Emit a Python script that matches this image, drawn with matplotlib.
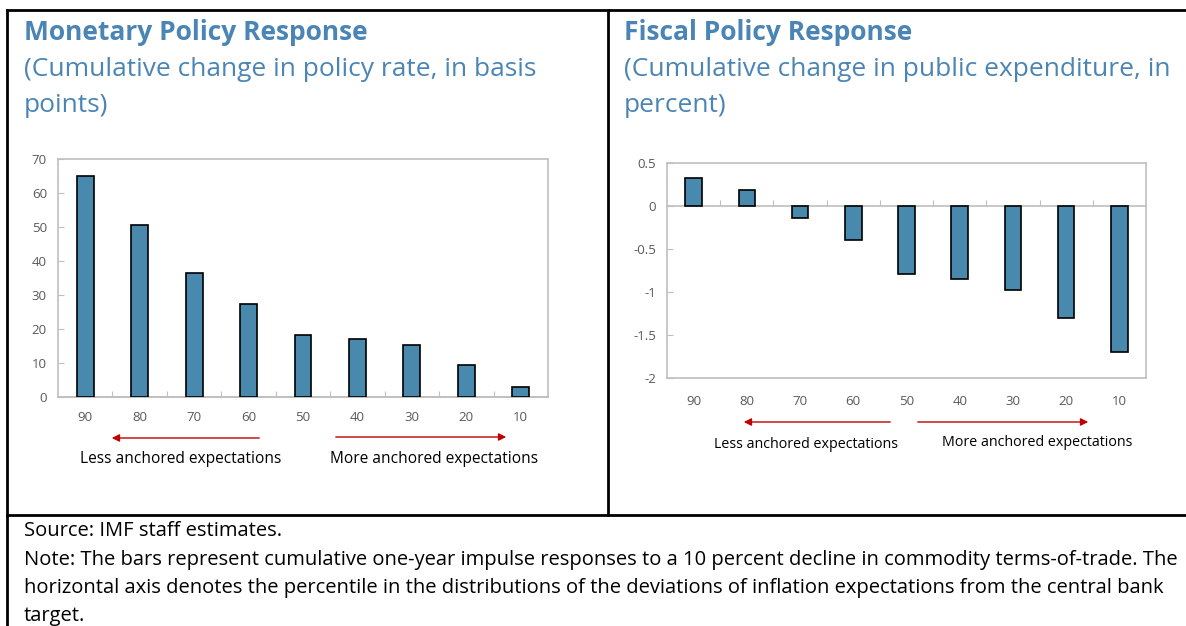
import numpy as np
import matplotlib
matplotlib.use("Agg")
import matplotlib.pyplot as plt

W, H = 1186, 626

# === Data ===
percentiles = ["90", "80", "70", "60", "50", "40", "30", "20", "10"]
monetary = [65.0, 50.5, 36.5, 27.3, 18.2, 17.1, 15.3, 9.5, 3.0]
fiscal = [0.32, 0.19, -0.135, -0.395, -0.785, -0.85, -0.98, -1.30, -1.695]

left_title = "Monetary Policy Response"
left_sub = ["(Cumulative change in policy rate, in basis", "points)"]
right_title = "Fiscal Policy Response"
right_sub = ["(Cumulative change in public expenditure, in", "percent)"]
note_lines = [
    "Source: IMF staff estimates.",
    "Note: The bars represent cumulative one-year impulse responses to a 10 percent decline in commodity terms-of-trade. The",
    "horizontal axis denotes the percentile in the distributions of the deviations of inflation expectations from the central bank",
    "target.",
]

BAR = "#4A89AE"
TITLE = "#4A85B5"
GRAY = "#595959"
FRAME = "#BFBFBF"
RED = "#C00000"

plt.rcParams['font.family'] = ['Open Sans', 'DejaVu Sans']


def fx(x):
    return x / W


def fy(y):
    return 1 - y / H


fig = plt.figure(figsize=(W / 100, H / 100), dpi=100)

# === Table lines ===
lw = 2
fig.add_artist(plt.Line2D([fx(7), 1], [fy(10), fy(10)], color="black", lw=lw))
fig.add_artist(plt.Line2D([fx(7), 1], [fy(515), fy(515)], color="black", lw=lw))
fig.add_artist(plt.Line2D([fx(7), fx(7)], [fy(10), 0], color="black", lw=lw))
fig.add_artist(plt.Line2D([fx(608), fx(608)], [fy(10), fy(515)], color="black", lw=lw))

# === Titles ===
for x0, title, sub in [(24, left_title, left_sub), (624, right_title, right_sub)]:
    fig.text(fx(x0), fy(32), title, color=TITLE, fontsize=19, fontweight="bold", va="center")
    for i, line in enumerate(sub):
        fig.text(fx(x0), fy(69 + 36 * i), line, color=TITLE, fontsize=19, va="center")


def style_axes(ax, ylim, yticks, ylabels, zero_frac, xpad):
    x = np.arange(len(percentiles))
    ax.set_xlim(-0.5, len(percentiles) - 0.5)
    ax.set_ylim(*ylim)
    ax.set_xticks(x, percentiles)
    ax.set_yticks(yticks, ylabels)
    ax.tick_params(axis="x", length=0, pad=xpad, labelsize=9.5, labelcolor=GRAY)
    ax.tick_params(axis="y", direction="in", length=4, color=FRAME, pad=8,
                   labelsize=9.5, labelcolor=GRAY)
    for s in ax.spines.values():
        s.set_color(FRAME)
        s.set_linewidth(1.2)
    # zero line with small ticks between the categories
    sec = ax.secondary_xaxis(zero_frac)
    sec.set_xticks(x[:-1] + 0.5, [""] * (len(x) - 1))
    side = "top" if zero_frac > 0.5 else "bottom"
    sec.tick_params(direction="out" if side == "top" else "in", length=4, color=FRAME)
    for name, s in sec.spines.items():
        s.set_color(FRAME)
        s.set_linewidth(1.2)
        s.set_visible(name == side)


# === Left: monetary ===
ax1 = fig.add_axes([fx(58), fy(397), fx(490), 238 / H])
ax1.bar(np.arange(len(monetary)), monetary, width=0.31, color=BAR,
        edgecolor="black", linewidth=1.2, zorder=3)
style_axes(ax1, (0, 70), np.arange(0, 71, 10), [str(v) for v in range(0, 71, 10)], 0.0, 10)

# === Right: fiscal ===
ax2 = fig.add_axes([fx(667), fy(378), fx(479), 215 / H])
ax2.bar(np.arange(len(fiscal)), fiscal, width=0.31, color=BAR,
        edgecolor="black", linewidth=1.2, zorder=3)
yt = [0.5, 0, -0.5, -1, -1.5, -2]
style_axes(ax2, (-2, 0.5), yt, ["0.5", "0", "-0.5", "-1", "-1.5", "-2"], 0.8, 12)


# === Anchoring arrows ===
def arrow(x_from, x_to, y):
    fig.add_artist(matplotlib.patches.FancyArrowPatch(
        (fx(x_from), fy(y)), (fx(x_to), fy(y)), transform=fig.transFigure,
        arrowstyle="-|>", mutation_scale=11, color=RED, lw=1))


arrow(262, 109, 438)
arrow(333, 509, 437)
arrow(893, 741, 422)
arrow(915, 1091, 422)

fig.text(fx(181), fy(459), "Less anchored expectations", ha="center", va="center", fontsize=11.2)
fig.text(fx(434), fy(459), "More anchored expectations", ha="center", va="center", fontsize=11.2)
fig.text(fx(806), fy(445), "Less anchored expectations", ha="center", va="center", fontsize=10.3)
fig.text(fx(1037), fy(443), "More anchored expectations", ha="center", va="center", fontsize=10.3)

# === Notes ===
for line, y in zip(note_lines, [531, 560, 588, 616]):
    fig.text(fx(24), fy(y), line, fontsize=14.5, va="center")

fig.savefig("out.png", dpi=100)
